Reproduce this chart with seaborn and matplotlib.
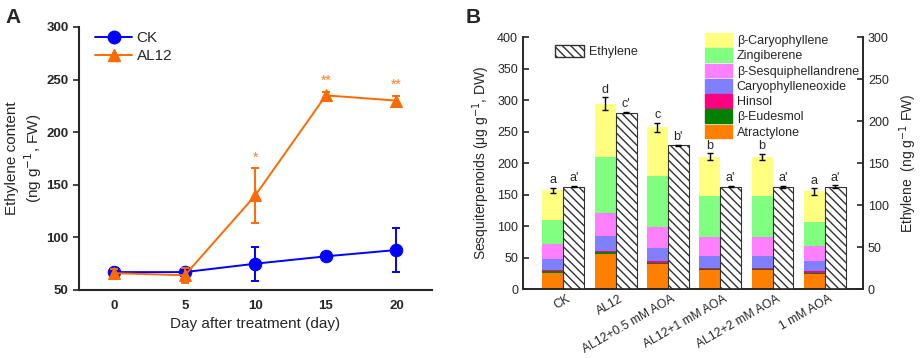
import matplotlib
matplotlib.use('Agg')
import matplotlib.pyplot as plt
import seaborn as sns
import pandas as pd
import numpy as np
from matplotlib.patches import Patch
from matplotlib.lines import Line2D

# данные панели A
days = [0, 5, 10, 15, 20]
ck_eth = [67, 67, 75, 82, 88]
ck_err = [2, 2, 16, 2, 21]
al12_eth = [66, 64, 140, 235, 230]
al12_err = [4, 7, 26, 3, 4]
star_days = [10, 15, 20]
star_y = [176, 249, 245]
star_txt = ['*', '**', '**']

# данные панели B
groups = ['CK', 'AL12', 'AL12+0.5 mM AOA', 'AL12+1 mM AOA', 'AL12+2 mM AOA', '1 mM AOA']
compounds = ['Atractylone', 'β-Eudesmol', 'Hinsol', 'Caryophylleneoxide',
             'β-Sesquiphellandrene', 'Zingiberene', 'β-Caryophyllene']
atractylone = [26, 55, 39, 30, 30, 24]
eudesmol = [2, 3, 2, 2, 2, 2]
hinsol = [2, 2, 3, 2, 2, 2]
caryoxide = [17, 24, 21, 18, 18, 17]
sesquiphell = [24, 36, 33, 30, 30, 23]
zingiberene = [38, 90, 82, 66, 66, 38]
caryophyllene = [48, 84, 77, 62, 62, 49]
sesq_err = [4, 10, 7, 6, 5, 5]
sesq_letters = ['a', 'd', 'c', 'b', 'b', 'a']
ethylene = [122, 210, 171, 122, 121.5, 122]
eth_err = [1, 1, 1, 1, 1, 1.5]
eth_letters = ["a'", "c'", "b'", "a'", "a'", "a'"]

colors = ['#FF8000', '#008000', '#FF0080', '#8080FF', '#FF80FF', '#80FF80', '#FFFF80']

sns.set_style('ticks')
plt.rcParams['font.family'] = ['Liberation Sans', 'DejaVu Sans']
plt.rcParams['hatch.linewidth'] = 1.0

fig = plt.figure(figsize=(9.21, 3.58), dpi=100)
axA = fig.add_axes([0.0858, 0.19, 0.383, 0.7346])
axB = fig.add_axes([0.5679, 0.1927, 0.3691, 0.7039])

# TODO Панель A
blue = '#0000FF'
orange = '#FF6A00'
sns.lineplot(x=days, y=ck_eth, ax=axA, color=blue, marker='o', markersize=9,
             markeredgecolor=blue, linewidth=1.4)
axA.errorbar(days, ck_eth, yerr=ck_err, fmt='none', ecolor=blue, capsize=3, elinewidth=1.4, capthick=1.4)
sns.lineplot(x=days, y=al12_eth, ax=axA, color=orange, marker='^', markersize=9,
             markeredgecolor=orange, linewidth=1.4)
axA.errorbar(days, al12_eth, yerr=al12_err, fmt='none', ecolor=orange, capsize=3, elinewidth=1.4, capthick=1.4)
for d, yv, t in zip(star_days, star_y, star_txt):
    axA.text(d, yv, t, color='#FF7F27', fontsize=10, ha='center', va='center')

axA.set_xlim(-2.5, 22.5)
axA.set_ylim(50, 300)
axA.set_xticks(days)
axA.set_yticks([50, 100, 150, 200, 250, 300])
axA.tick_params(axis='both', labelsize=9.5, width=1.2, length=4)
axA.tick_params(axis='x', length=0, pad=7)
for lab in axA.get_xticklabels() + axA.get_yticklabels():
    lab.set_fontweight('bold')
for s in ['left', 'bottom']:
    axA.spines[s].set_linewidth(1.5)
sns.despine(ax=axA)
axA.set_xlabel('Day after treatment (day)', fontsize=11, labelpad=4)
axA.set_ylabel('Ethylene content\n(ng g$^{-1}$, FW)', fontsize=11, labelpad=2)
hA = [Line2D([], [], color=blue, marker='o', markersize=9, lw=1.4),
      Line2D([], [], color=orange, marker='^', markersize=9, lw=1.4)]
axA.legend(hA, ['CK', 'AL12'], loc='upper left', frameon=False, fontsize=11,
           handlelength=2.4, borderaxespad=0.2, labelspacing=0.3, handletextpad=0.3,
           bbox_to_anchor=(0.02, 1.02))
fig.text(0.006, 0.935, 'A', fontsize=15, fontweight='bold')

# TODO Панель B - stacked
stack = np.array([atractylone, eudesmol, hinsol, caryoxide, sesquiphell, zingiberene, caryophyllene])
cum = stack.cumsum(axis=0)
pos = np.arange(len(groups))
for k in range(len(compounds) - 1, -1, -1):
    sns.barplot(x=pos - 0.2, y=cum[k], native_scale=True, width=0.4, color=colors[k],
                saturation=1, errorbar=None, ax=axB, linewidth=0)
totals = cum[-1]
axB.errorbar(pos - 0.2, totals, yerr=sesq_err, fmt='none', ecolor='black', capsize=2.5,
             elinewidth=1, capthick=1)
for p, t, e, l in zip(pos, totals, sesq_err, sesq_letters):
    axB.text(p - 0.2, t + e + 2, l, ha='center', va='bottom', fontsize=9)

axR = axB.twinx()
sns.barplot(x=pos + 0.2, y=ethylene, native_scale=True, width=0.4, color='white',
            saturation=1, errorbar=None, ax=axR, edgecolor='#333333', hatch='\\\\\\\\', linewidth=0.8)
axR.errorbar(pos + 0.2, ethylene, yerr=eth_err, fmt='none', ecolor='black', capsize=2.5,
             elinewidth=1, capthick=1)
for p, v, e, l in zip(pos, ethylene, eth_err, eth_letters):
    axR.text(p + 0.2, v + e + 2, l, ha='center', va='bottom', fontsize=9)

axB.set_xlim(-0.77, 5.73)
axB.set_ylim(0, 400)
axR.set_ylim(0, 300)
axB.set_yticks(range(0, 401, 50))
axR.set_yticks(range(0, 301, 50))
axB.set_xticks(pos + 0.06)
axB.set_xticklabels(groups, rotation=30, ha='right', rotation_mode='anchor', fontsize=8.7)
axB.tick_params(axis='x', length=0, pad=3)
axB.tick_params(axis='y', direction='in', length=4, labelsize=9, width=1.2)
axR.tick_params(axis='y', direction='in', length=4, labelsize=9, width=1.2)
axB.set_xlabel('')
for ax in (axB, axR):
    ax.spines['top'].set_visible(False)
    for s in ['left', 'right', 'bottom']:
        ax.spines[s].set_linewidth(1.2)
axB.set_ylabel('Sesquiterpenoids (μg g$^{-1}$, DW)', fontsize=10, labelpad=4)
axR.set_ylabel('Ethylene  (ng g$^{-1}$ FW)', fontsize=10, labelpad=6)

hB = [Patch(facecolor=colors[k], edgecolor=colors[k]) for k in range(len(compounds) - 1, -1, -1)]
axR.legend(hB, compounds[::-1], loc='upper left', bbox_to_anchor=(0.52, 1.035), frameon=False,
           fontsize=9, handlelength=2.2, handleheight=1.3, labelspacing=0.1, handletextpad=0.35,
           borderaxespad=0)
legE = axB.legend([Patch(facecolor='white', edgecolor='#333333', hatch='\\\\\\\\')], ['Ethylene'],
                  loc='upper left', bbox_to_anchor=(0.08, 0.99), frameon=False, fontsize=9,
                  handlelength=2.3, handleheight=1.1, handletextpad=0.4, borderaxespad=0)
fig.text(0.506, 0.935, 'B', fontsize=15, fontweight='bold')

plt.savefig('out.png', dpi=100)
